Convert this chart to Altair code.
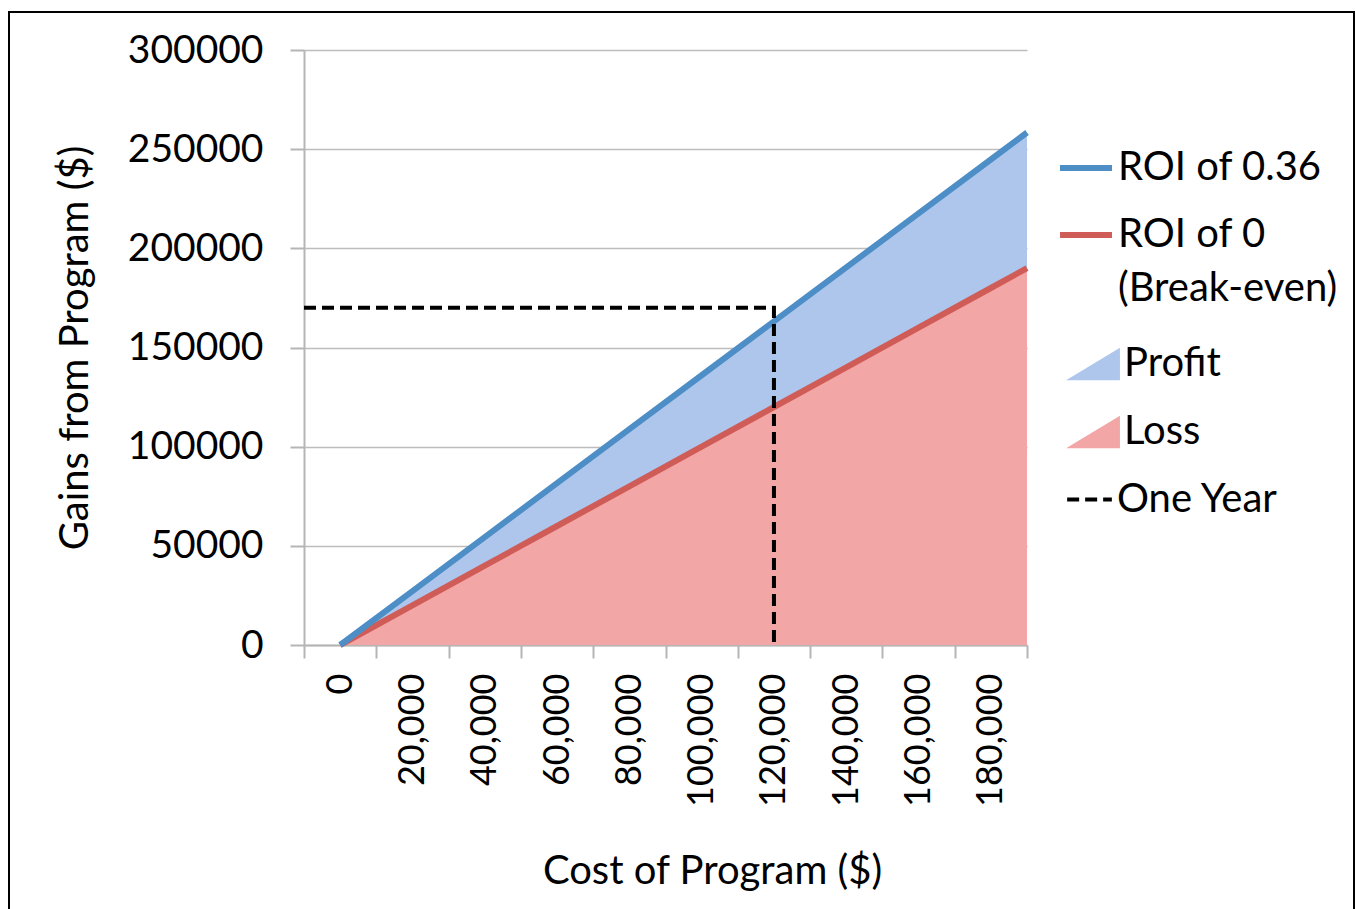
import altair as alt
import pandas as pd

# ---- data ----
cost = [0, 20000, 40000, 60000, 80000, 100000, 120000, 140000, 160000, 180000, 190000]
gain_roi036 = [0, 27200, 54400, 81600, 108800, 136000, 163200, 190400, 217600, 244800, 258400]
gain_roi0 = [0, 20000, 40000, 60000, 80000, 100000, 120000, 140000, 160000, 180000, 190000]

year_x = [-10000, 120000, 120000]
year_y = [170000, 170000, 0]

x_labels = [0, 20000, 40000, 60000, 80000, 100000, 120000, 140000, 160000, 180000]
x_ticks = [-10000, 10000, 30000, 50000, 70000, 90000, 110000, 130000, 150000, 170000, 190000]
y_ticks = [0, 50000, 100000, 150000, 200000, 250000, 300000]

S_BLUE = "ROI of 0.36"
S_RED = "ROI of 0 (Break-even)"

FONT = "Lato"
BLUE_LINE = "#4e8ec6"
RED_LINE = "#d05c58"
BLUE_AREA = "#aec6ec"
RED_AREA = "#f2a6a6"

df = pd.DataFrame({"cost": cost, "roi036": gain_roi036, "roi0": gain_roi0})
blue_df = pd.DataFrame({"cost": cost, "gain": gain_roi036, "series": S_BLUE})
red_df = pd.DataFrame({"cost": cost, "gain": gain_roi0, "series": S_RED})
year_df = pd.DataFrame({"cost": year_x, "gain": year_y, "k": [0, 1, 2], "s": "One Year"})

xscale = alt.Scale(domain=[-10000, 190000], nice=False, zero=False)
yscale = alt.Scale(domain=[0, 300000], nice=False)

x_tick_axis = alt.Axis(values=x_ticks, labels=False, title=None, grid=False,
                       domainColor="#b5b5b5", domainWidth=2, tickColor="#b5b5b5",
                       tickWidth=2, tickSize=13, orient="bottom")
x_label_axis = alt.Axis(values=x_labels, labelExpr="format(datum.value, ',')", labelAngle=-90,
                        ticks=False, domain=False,
                        grid=False, orient="bottom", labelFont=FONT, labelFontSize=36,
                        labelColor="black", labelPadding=28, title="Cost of Program ($)",
                        titleFont=FONT, titleFontSize=40, titleFontWeight="normal",
                        titleColor="black", titlePadding=45, titleX=408)
y_axis = alt.Axis(values=y_ticks, format="d", title="Gains from Program ($)", grid=True,
                  gridColor="#bdbdbd", gridWidth=1.5, domainColor="#b5b5b5",
                  domainWidth=2, tickColor="#b5b5b5", tickWidth=2, tickSize=14,
                  labelFont=FONT, labelFontSize=39, labelColor="black",
                  labelPadding=27, titleFont=FONT, titleFontSize=40,
                  titleFontWeight="normal", titleColor="black", titlePadding=32)

legend_common = dict(title=None, orient="none", labelFont=FONT, labelFontSize=40,
                     labelColor="black", labelLimit=500)

area_red = alt.Chart(df).mark_area(opacity=1).encode(
    x=alt.X("cost:Q", scale=xscale, axis=x_tick_axis),
    y=alt.Y("roi0:Q", scale=yscale, axis=y_axis),
    fill=alt.Fill("lab:N", scale=alt.Scale(domain=["Profit", "Loss"], range=[BLUE_AREA, RED_AREA]),
                  legend=alt.Legend(legendX=762, legendY=287,
                                    symbolType="M -1 0.6 L 1 0.6 L 1 -0.6 Z", symbolSize=2900,
                                    symbolStrokeWidth=0, labelOffset=4, rowPadding=21,
                                    **legend_common)),
).transform_calculate(lab="'Loss'")

area_blue = alt.Chart(df).mark_area(opacity=1).encode(
    x=alt.X("cost:Q", scale=xscale, axis=None),
    y=alt.Y("roi036:Q", scale=yscale),
    y2="roi0:Q",
    fill=alt.Fill("lab:N"),
).transform_calculate(lab="'Profit'")

stroke_scale = alt.Scale(domain=[S_BLUE, S_RED], range=[BLUE_LINE, RED_LINE])

line_red = alt.Chart(red_df).mark_line(strokeWidth=6).encode(
    x=alt.X("cost:Q", scale=xscale, axis=None),
    y=alt.Y("gain:Q", scale=yscale),
    stroke=alt.Stroke("series:N", scale=stroke_scale,
                      legend=alt.Legend(legendX=753, legendY=89,
                                        symbolType="stroke", symbolSize=2700, symbolStrokeWidth=6,
                                        labelOffset=3, rowPadding=18,
                                        labelExpr="datum.label == '" + S_RED + "' ? ['ROI of 0', '(Break-even)'] : datum.label",
                                        **legend_common)),
)

line_blue = alt.Chart(blue_df).mark_line(strokeWidth=6).encode(
    x=alt.X("cost:Q", scale=xscale, axis=None),
    y=alt.Y("gain:Q", scale=yscale),
    stroke=alt.Stroke("series:N", scale=stroke_scale),
)

year = alt.Chart(year_df).mark_line(strokeWidth=4, color="black").encode(
    x=alt.X("cost:Q", scale=xscale, axis=x_label_axis),
    y=alt.Y("gain:Q", scale=yscale),
    order="k:Q",
    strokeDash=alt.StrokeDash("s:N", scale=alt.Scale(range=[[12, 6]]),
                              legend=alt.Legend(legendX=761, legendY=425,
                                                symbolType="stroke", symbolSize=2000,
                                                symbolStrokeWidth=4, symbolStrokeColor="black",
                                                labelOffset=3, **legend_common)),
)

border = alt.Chart(pd.DataFrame({"a": [0]})).mark_rect(fill=None, stroke="black", strokeWidth=2).encode(
    x=alt.value(-295), x2=alt.value(1050), y=alt.value(-38), y2=alt.value(880)
)

chart = alt.layer(area_red, area_blue, line_red, line_blue, year, border).resolve_axis(
    x="independent"
).properties(
    width=723, height=595,
    autosize=alt.AutoSizeParams(type="none"),
    padding={"left": 304, "top": 50, "right": 328, "bottom": 264},
    background="white",
).configure(style={"guide-label": {"lineHeight": 54}}).configure_view(stroke=None)

chart.save("out.html", embed_options={"renderer": "svg", "actions": False})
